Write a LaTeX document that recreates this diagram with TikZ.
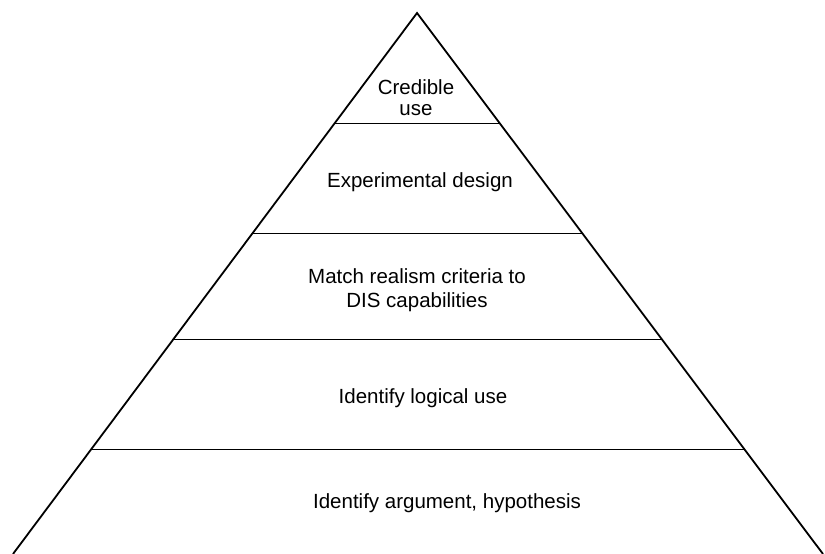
\documentclass[tikz,border=0pt]{standalone}
\usepackage{fontspec}
\setmainfont{Liberation Sans}
\usetikzlibrary{calc}
\tikzset{
  side/.style={line width=1.8pt, line join=miter},
  tierline/.style={line width=1.1pt},
  tierlabel/.style={anchor=base, align=center, inner sep=0pt, font=\fontsize{20.5}{24}\selectfont}
}

\begin{document}
\begin{tikzpicture}[x=1pt, y=-1pt]
        \useasboundingbox (0,0) rectangle (825,554);

        % Pyramid outline
        \coordinate (apex) at (417,13);
        \coordinate (bl) at (13,554);
        \coordinate (br) at (823,554);
        \draw[side] (bl) -- (apex) -- (br);

        % Tier lines (fraction down the sides)
        \foreach \t in {0.205,0.407,0.604,0.806}
        \draw[tierline] ($(apex)!\t!(bl)$) -- ($(apex)!\t!(br)$);

        % Tier labels (base = last line)
        \node[tierlabel] (credible) at (416,115) {Credible\\[-3pt]use};
        \node[tierlabel] (design) at (420,187) {Experimental design};
        \node[tierlabel] (match) at (417,307) {Match realism criteria to\\DIS capabilities};
        \node[tierlabel] (logical) at (423,403) {Identify logical use};
        \node[tierlabel] (argument) at (447,508) {Identify argument, hypothesis};
\end{tikzpicture}
\end{document}
